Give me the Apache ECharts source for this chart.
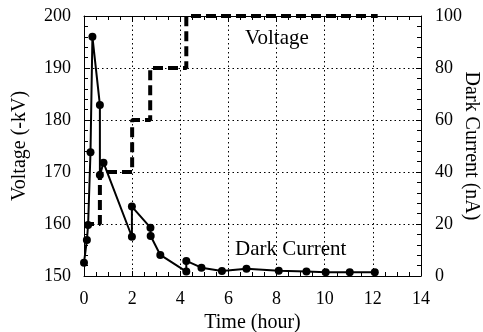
<!DOCTYPE html>
<html>
<head>
<meta charset="utf-8" />
<title>Voltage and dark current</title>
<script src="https://cdn.jsdelivr.net/npm/echarts@6/dist/echarts.min.js"></script>
<style>
  html, body { margin: 0; padding: 0; background: #fff; }
  #chart { width: 483px; height: 332px; }
</style>
</head>
<body>
<div id="chart"></div>
<script>
// voltage steps (hour, -kV)
var voltTimes = [0, 0.66, 2.0, 2.75, 4.25, 12.2];
var voltLevels = [160, 170, 180, 190, 200, 200];

// dark current measurements (hour, nA)
var curTimes = [0.0, 0.12, 0.17, 0.27, 0.35, 0.66, 0.66, 0.81, 1.99, 1.99, 2.76, 2.77, 3.17,
                4.25, 4.25, 4.88, 5.73, 6.75, 8.09, 9.24, 10.04, 11.04, 12.08];
var curValues = [5.1, 13.8, 19.6, 47.6, 92.0, 65.8, 38.8, 43.6, 15.1, 26.7, 18.6, 15.4, 8.1,
                 1.7, 5.8, 3.2, 1.9, 2.8, 2.0, 1.7, 1.4, 1.4, 1.4];

var xTicks = [0, 2, 4, 6, 8, 10, 12, 14];

var font = 'Liberation Serif';
var chart = echarts.init(document.getElementById('chart'), null, {renderer: 'canvas'});

function zip(a, b) {
    var out = [];
    for (var i = 0; i < a.length; i++) out.push([a[i], b[i]]);
    return out;
}

var dotted = {show: true, lineStyle: {color: '#000', width: 1, type: [1.5, 3]}};
var tickStyle = {show: true, inside: true, length: 5, lineStyle: {color: '#000', width: 1}};
var minorStyle = {show: true, length: 4, lineStyle: {color: '#000', width: 1}};
var lineAxis = {show: true, onZero: false, lineStyle: {color: '#000', width: 1}};

var option = {
    animation: false,
    backgroundColor: '#fff',
    grid: {left: 84, right: 62, top: 16, bottom: 56, containLabel: false, outerBoundsMode: 'none'},
    xAxis: [{
        type: 'value', min: 0, max: 14, interval: 2, position: 'bottom',
        name: 'Time (hour)', nameLocation: 'middle', nameGap: 37, nameMoveOverlap: false,
        nameTextStyle: {fontFamily: font, fontSize: 20, color: '#000'},
        axisLine: lineAxis, axisTick: tickStyle,
        minorTick: Object.assign({splitNumber: 4}, minorStyle),
        axisLabel: {fontFamily: font, fontSize: 18, color: '#000', margin: 14,
            formatter: function (v) { return xTicks.indexOf(v) >= 0 ? String(v) : ''; }},
        splitLine: dotted
    }, {
        type: 'value', min: 0, max: 14, interval: 2, position: 'top',
        axisLine: lineAxis, axisTick: tickStyle,
        minorTick: Object.assign({splitNumber: 4}, minorStyle),
        axisLabel: {show: false}, splitLine: {show: false}
    }],
    yAxis: [{
        type: 'value', min: 150, max: 200, interval: 10, position: 'left',
        name: 'Voltage (-kV)', nameLocation: 'middle', nameGap: 54, nameMoveOverlap: false,
        nameTextStyle: {fontFamily: font, fontSize: 20, color: '#000'},
        axisLine: lineAxis, axisTick: tickStyle,
        minorTick: Object.assign({splitNumber: 5}, minorStyle),
        axisLabel: {fontFamily: font, fontSize: 18, color: '#000', margin: 13},
        splitLine: dotted
    }, {
        type: 'value', min: 0, max: 100, interval: 20, position: 'right',
        name: 'Dark Current (nA)', nameLocation: 'middle', nameGap: 40, nameRotate: -90,
        nameMoveOverlap: false,
        nameTextStyle: {fontFamily: font, fontSize: 20, color: '#000'},
        axisLine: lineAxis, axisTick: tickStyle,
        minorTick: Object.assign({splitNumber: 5}, minorStyle),
        axisLabel: {fontFamily: font, fontSize: 18, color: '#000', margin: 14},
        splitLine: {show: false}
    }],
    graphic: [{
        type: 'text', left: 245, top: 28,
        style: {text: 'Voltage', font: '21px "Liberation Serif"', fill: '#000'}
    }, {
        type: 'text', left: 235, top: 239,
        style: {text: 'Dark Current', font: '21px "Liberation Serif"', fill: '#000'}
    }],
    series: [{
        name: 'Voltage', type: 'line', xAxisIndex: 0, yAxisIndex: 0,
        data: zip(voltTimes, voltLevels), step: 'end', clip: false,
        showSymbol: false, symbol: 'none',
        lineStyle: {color: '#000', width: 4, type: [10, 5], cap: 'butt'}
    }, {
        name: 'Dark Current', type: 'line', xAxisIndex: 0, yAxisIndex: 1,
        data: zip(curTimes, curValues), clip: false,
        symbol: 'circle', symbolSize: 8,
        itemStyle: {color: '#000'},
        lineStyle: {color: '#000', width: 2}
    }]
};
chart.setOption(option);
</script>
</body>
</html>
